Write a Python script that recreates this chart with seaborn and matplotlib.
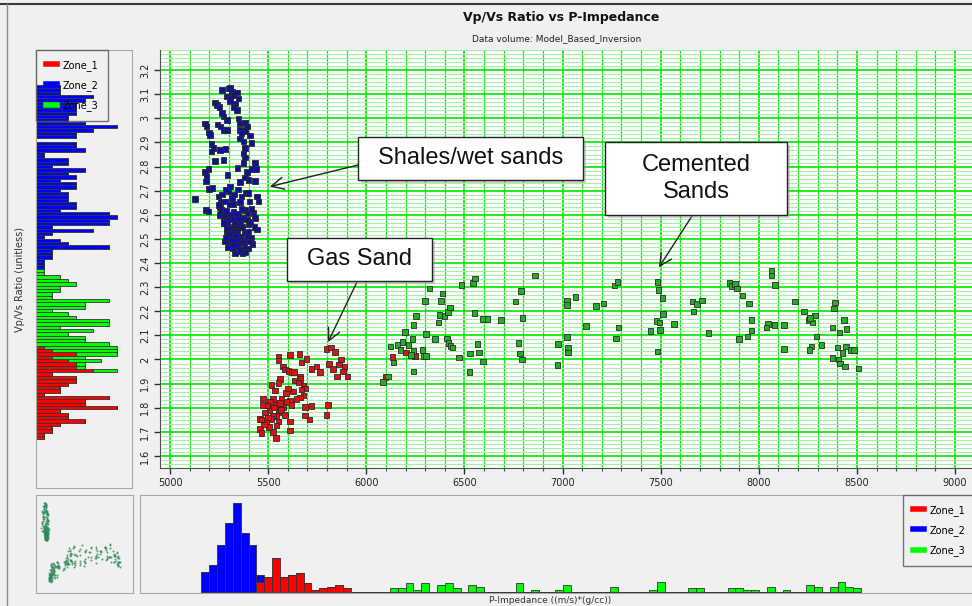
import numpy as np
import pandas as pd
import matplotlib
matplotlib.use("Agg")
import matplotlib.pyplot as plt
import seaborn as sns
from matplotlib.lines import Line2D
from matplotlib.patches import Rectangle

# ---------------- data ----------------
zones = ["Zone_1", "Zone_2", "Zone_3"]
zone_colors = {"Zone_1": "#ff0000", "Zone_2": "#0000ff", "Zone_3": "#00ff00"}
marker_colors = {"Zone_1": "#e01010", "Zone_2": "#10109a", "Zone_3": "#22b022"}

# Zone_2 : shales / wet sands  (P-Impedance, Vp/Vs)
zone2_points = [
    (5264, 3.117), (5298, 3.124), (5306, 3.127), (5315, 3.110), (5289, 3.090), (5306, 3.083),
    (5323, 3.096), (5340, 3.107), (5348, 3.083), (5331, 3.062), (5306, 3.069), (5229, 3.066),
    (5238, 3.055), (5252, 3.048), (5323, 3.048), (5340, 3.034), (5264, 3.021), (5272, 3.007),
    (5289, 2.993), (5348, 3.000), (5357, 2.979), (5382, 2.983), (5391, 2.966), (5178, 2.979),
    (5187, 2.966), (5241, 2.975), (5258, 2.966), (5272, 2.952), (5289, 2.952), (5357, 2.952),
    (5382, 2.948), (5407, 2.928), (5200, 2.942), (5204, 2.931), (5365, 2.938), (5357, 2.917),
    (5374, 2.904), (5416, 2.897), (5212, 2.893), (5221, 2.876), (5212, 2.862), (5255, 2.869),
    (5283, 2.873), (5382, 2.876), (5374, 2.855), (5382, 2.838), (5229, 2.824), (5272, 2.828),
    (5433, 2.814), (5374, 2.814), (5195, 2.791), (5178, 2.777), (5187, 2.759), (5183, 2.738),
    (5200, 2.708), (5217, 2.711), (5294, 2.766), (5343, 2.793), (5391, 2.777), (5416, 2.791),
    (5439, 2.791), (5382, 2.755), (5399, 2.745), (5433, 2.741), (5357, 2.736), (5306, 2.718),
    (5299, 2.697), (5315, 2.669), (5246, 2.676), (5258, 2.656), (5255, 2.631), (5280, 2.656),
    (5306, 2.642), (5323, 2.645), (5127, 2.665), (5183, 2.621), (5195, 2.614), (5442, 2.676),
    (5450, 2.656), (5387, 2.690), (5399, 2.690), (5357, 2.653), (5382, 2.621), (5425, 2.607),
    (5433, 2.587), (5255, 2.600), (5272, 2.587), (5289, 2.580), (5306, 2.600), (5323, 2.614),
    (5289, 2.559), (5306, 2.548), (5323, 2.552), (5340, 2.548), (5357, 2.566), (5374, 2.587),
    (5391, 2.580), (5399, 2.559), (5340, 2.532), (5289, 2.525), (5323, 2.511), (5357, 2.507),
    (5382, 2.525), (5442, 2.539), (5348, 2.490), (5374, 2.493), (5391, 2.497), (5300, 2.470),
    (5320, 2.460), (5340, 2.480), (5360, 2.450), (5380, 2.470), (5400, 2.460), (5330, 2.440),
    (5350, 2.470), (5420, 2.480), (5280, 2.490), (5370, 2.440), (5310, 2.480), (5260, 2.620),
    (5280, 2.600), (5300, 2.580), (5330, 2.570), (5350, 2.600), (5370, 2.550), (5400, 2.530),
    (5410, 2.570), (5430, 2.550), (5290, 2.540), (5250, 2.640), (5360, 2.510), (5320, 2.530),
    (5340, 2.500), (5300, 2.520), (5285, 2.505), (5315, 2.495), (5335, 2.515), (5365, 2.485),
    (5395, 2.515), (5415, 2.505), (5275, 2.565), (5345, 2.585), (5365, 2.625), (5395, 2.605),
    (5415, 2.625), (5285, 2.615), (5315, 2.585), (5335, 2.605), (5265, 2.685), (5285, 2.705),
    (5325, 2.685), (5345, 2.705), (5365, 2.675), (5405, 2.655), (5295, 2.465), (5355, 2.455),
    (5385, 2.445), (5325, 2.475), (5405, 2.490),
]

# Zone_1 : gas sand
zone1_points = [
    (5552, 2.013), (5552, 1.995), (5611, 2.018), (5659, 2.022), (5696, 2.002), (5670, 1.988),
    (5577, 1.971), (5586, 1.958), (5603, 1.953), (5620, 1.947), (5631, 1.949), (5662, 1.930),
    (5665, 1.919), (5637, 1.912), (5654, 1.905), (5560, 1.919), (5552, 1.902), (5518, 1.894),
    (5535, 1.871), (5679, 1.889), (5687, 1.880), (5628, 1.867), (5670, 1.875), (5679, 1.850),
    (5662, 1.843), (5645, 1.836), (5611, 1.830), (5594, 1.823), (5569, 1.836), (5526, 1.836),
    (5509, 1.823), (5475, 1.839), (5475, 1.812), (5496, 1.809), (5543, 1.812), (5557, 1.806),
    (5577, 1.802), (5620, 1.812), (5506, 1.788), (5552, 1.781), (5543, 1.765), (5526, 1.768),
    (5518, 1.754), (5552, 1.743), (5543, 1.726), (5458, 1.754), (5467, 1.751), (5492, 1.737),
    (5458, 1.712), (5467, 1.696), (5526, 1.699), (5540, 1.675), (5611, 1.743), (5611, 1.706),
    (5687, 1.802), (5687, 1.768), (5710, 1.751), (5721, 1.806), (5721, 1.960), (5747, 1.971),
    (5764, 1.949), (5798, 2.043), (5811, 1.981), (5798, 1.770), (5806, 1.812), (5820, 2.050),
    (5840, 2.030), (5860, 1.980), (5880, 1.950), (5850, 1.930), (5870, 2.000), (5890, 1.970),
    (5830, 1.960), (5905, 1.930), (6097, 1.927), (6134, 2.011), (6202, 2.029), (6248, 2.015),
    (5485, 1.780), (5500, 1.760), (5530, 1.800), (5565, 1.790), (5585, 1.770), (5505, 1.720),
    (5480, 1.730), (5560, 1.820), (5590, 1.860), (5600, 1.880),
]

# Zone_3 : cemented sands
zone3_points = [
    (6321, 2.294), (6389, 2.274), (6381, 2.243), (6299, 2.243), (6252, 2.181), (6240, 2.144),
    (6197, 2.115), (6185, 2.073), (6214, 2.060), (6235, 2.084), (6240, 2.036), (6228, 2.018),
    (6287, 2.039), (6291, 2.015), (6304, 2.015), (6138, 1.988), (6124, 2.053), (6240, 1.951),
    (6303, 2.105), (6350, 2.084), (6367, 2.153), (6372, 2.185), (6398, 2.181), (6415, 2.197),
    (6427, 2.215), (6410, 2.087), (6418, 2.068), (6430, 2.057), (6440, 2.050), (6472, 2.009),
    (6486, 2.309), (6545, 2.318), (6554, 2.335), (6551, 2.192), (6596, 2.167), (6618, 2.167),
    (6566, 2.064), (6574, 2.029), (6528, 2.025), (6525, 1.947), (6596, 1.992), (6686, 2.163),
    (6787, 2.284), (6761, 2.240), (6795, 2.171), (6775, 2.068), (6783, 2.025), (6792, 1.999),
    (6860, 2.349), (6978, 2.064), (6975, 1.978), (7024, 2.243), (7024, 2.225), (7067, 2.259),
    (7024, 2.094), (7029, 2.047), (7029, 2.029), (7118, 2.139), (7170, 2.222), (7208, 2.233),
    (7264, 2.307), (7279, 2.321), (7284, 2.133), (7272, 2.087), (7483, 2.321), (7488, 2.287),
    (7510, 2.256), (7513, 2.188), (7479, 2.160), (7493, 2.153), (7449, 2.119), (7496, 2.123),
    (7484, 2.033), (7568, 2.146), (7663, 2.240), (7686, 2.229), (7709, 2.245), (7666, 2.199),
    (7743, 2.109), (7850, 2.318), (7861, 2.305), (7878, 2.312), (7890, 2.294), (7916, 2.266),
    (7951, 2.233), (7963, 2.164), (7963, 2.121), (7943, 2.095), (7900, 2.084), (8065, 2.367),
    (8065, 2.349), (8082, 2.309), (8184, 2.240), (8230, 2.199), (8252, 2.163), (8274, 2.153),
    (8286, 2.183), (8260, 2.171), (8388, 2.236), (8383, 2.212), (8435, 2.164), (8447, 2.126),
    (8376, 2.132), (8410, 2.112), (8294, 2.095), (8269, 2.054), (8257, 2.039), (8320, 2.060),
    (8400, 2.050), (8427, 2.026), (8444, 2.054), (8468, 2.039), (8485, 2.039), (8376, 2.006),
    (8405, 1.999), (8413, 1.984), (8439, 1.971), (8507, 1.963), (8128, 2.043), (8079, 2.142),
    (8048, 2.146), (8040, 2.133), (8128, 2.144), (6085, 1.907), (6110, 1.930), (6160, 2.060),
    (6175, 2.040),
]

# Vp/Vs histogram (left panel), counts per bin from the lowest bin upward
vpvs_bin_start = 1.674
vpvs_bin_width = 0.01382
vpvs_n_bins = 106
zone1_vpvs_counts = [1, 1, 2, 2, 3, 6, 4, 4, 3, 10, 6, 6, 9, 1, 3, 3, 4, 5, 5, 2,
                     7, 5, 5, 4, 2, 5, 2, 1]                       # bins 0..27
zone3_vpvs_first_bin = 20
zone3_vpvs_counts = [3, 1, 1, 4, 4, 5, 8, 9, 9, 6, 6, 4, 7, 3, 9, 9, 5, 4, 2, 6,
                     6, 9, 2, 2, 3, 3, 5, 4, 3, 1, 1]              # bins 20..50
zone2_vpvs_first_bin = 51
zone2_vpvs_counts = [1, 1, 1, 2, 2, 2, 9, 4, 3, 1, 2, 7, 2, 9, 9, 10, 9, 3, 5, 5,
                     4, 4, 4, 3, 5, 5, 3, 5, 4, 6, 2, 4, 4, 1, 1, 6, 5, 5, 0, 5,
                     5, 7, 10, 6, 4, 4, 5, 5, 5, 5, 6, 7, 3, 3, 3]  # bins 51..105

# P-Impedance histogram (bottom panel)
imp_bin_start = 5160
imp_bin_width = 40
imp_n_bins = 84
zone2_imp_counts = [12, 16, 28, 41, 53, 35, 28, 4]                  # bins 0..7
zone1_imp_first_bin = 7
zone1_imp_counts = [6, 9, 20, 9, 10, 11, 5, 1, 2, 3, 4, 2, 0, 0, 0, 0, 0]  # bins 7..23
zone3_imp_first_bin = 24
zone3_imp_counts = [2, 2, 5, 1, 5, 0, 4, 5, 2, 0, 4, 3, 0, 0, 0, 0, 5, 0, 1, 0,
                    0, 1, 4, 0, 0, 0, 0, 0, 3, 0, 0, 0, 0, 1, 6, 0, 0, 0, 2, 2,
                    0, 0, 0, 2, 2, 1, 1, 0, 3, 0, 1, 0, 0, 4, 3, 0, 3, 6, 3, 2]  # bins 24..83

x_ticks = [5000, 5500, 6000, 6500, 7000, 7500, 8000, 8500, 9000]
y_ticks = [1.6, 1.7, 1.8, 1.9, 2.0, 2.1, 2.2, 2.3, 2.4, 2.5, 2.6, 2.7, 2.8, 2.9, 3.0, 3.1, 3.2]

# ---------------- tables ----------------
rows = []
for z, pts in (("Zone_2", zone2_points), ("Zone_1", zone1_points), ("Zone_3", zone3_points)):
    for imp, vv in pts:
        rows.append({"imp": imp, "vpvs": vv, "zone": z})
df = pd.DataFrame(rows)

left_rows = []
for z, first, counts in (("Zone_1", 0, zone1_vpvs_counts),
                         ("Zone_3", zone3_vpvs_first_bin, zone3_vpvs_counts),
                         ("Zone_2", zone2_vpvs_first_bin, zone2_vpvs_counts)):
    for i, c in enumerate(counts):
        b = first + i
        left_rows.append({"vpvs": vpvs_bin_start + (b + 0.5) * vpvs_bin_width, "n": float(c), "zone": z})
df_left = pd.DataFrame(left_rows)

bot_rows = []
for z, first, counts in (("Zone_2", 0, zone2_imp_counts),
                         ("Zone_1", zone1_imp_first_bin, zone1_imp_counts),
                         ("Zone_3", zone3_imp_first_bin, zone3_imp_counts)):
    for i, c in enumerate(counts):
        b = first + i
        bot_rows.append({"imp": imp_bin_start + (b + 0.5) * imp_bin_width, "n": float(c), "zone": z})
df_bot = pd.DataFrame(bot_rows)

# ---------------- figure ----------------
W, H = 972, 606
BG = "#f0f0f0"
FRAME = "#a8a8a8"


def rect(x0, y0, x1, y1):
    return [x0 / W, 1 - y1 / H, (x1 - x0) / W, (y1 - y0) / H]


plt.rcParams["font.family"] = ["DejaVu Sans"]
fig = plt.figure(figsize=(W / 100, H / 100), dpi=100, facecolor=BG)

# outer frame lines
fig.add_artist(Line2D([0, 1], [1 - 4 / H, 1 - 4 / H], transform=fig.transFigure, color="#3a3a3a", lw=1.5))
fig.add_artist(Line2D([7 / W, 7 / W], [0, 1 - 4 / H], transform=fig.transFigure, color="#8a8a8a", lw=1.0))

fig.text(561 / W, 1 - 17 / H, "Vp/Vs Ratio vs P-Impedance", ha="center", va="center",
         fontsize=9, fontweight="bold", color="#111111")
fig.text(557 / W, 1 - 39 / H, "Data volume: Model_Based_Inversion", ha="center", va="center",
         fontsize=6.5, color="#222222")
fig.text(20 / W, 1 - 280 / H, "Vp/Vs Ratio (unitless)", rotation=90, ha="center", va="center",
         fontsize=7, color="#333333")
fig.text(550 / W, 1 / H, "P-Impedance ((m/s)*(g/cc))", ha="center", va="bottom",
         fontsize=6.5, color="#333333")

# ---- main scatter ----
ax = fig.add_axes(rect(160, 50, 972, 468))
ax.set_facecolor("white")
xmin, xmax = 4949, 9086
ymin, ymax = 1.555, 3.283
ax.set_xlim(xmin, xmax)
ax.set_ylim(ymin, ymax)
ax.set_xticks(x_ticks)
ax.set_xticklabels([str(t) for t in x_ticks])
ax.set_xticks(np.arange(5000, 9100, 100), minor=True)
ax.set_yticks(y_ticks)
ax.set_yticklabels(["%g" % t for t in y_ticks], rotation=90, va="center")
ax.set_yticks(np.arange(1.55, 3.29, 0.1 / 6), minor=True)
ax.grid(which="minor", axis="y", color="#a6f0a6", lw=0.8)
ax.grid(which="major", axis="y", color="#00e600", lw=1.2)
ax.grid(which="minor", axis="x", color="#22e022", lw=0.9)
ax.grid(which="major", axis="x", color="#00e600", lw=1.2)
ax.set_axisbelow(True)
for s in ("top", "right"):
    ax.spines[s].set_visible(False)
for s in ("left", "bottom"):
    ax.spines[s].set_color("#505050")
ax.tick_params(which="major", length=4, width=1, color="#303030", labelsize=7, labelcolor="#222222", pad=3)
ax.tick_params(which="minor", length=2, width=0.8, color="#505050")
ax.tick_params(axis="y", which="minor", length=0)

sns.scatterplot(data=df, x="imp", y="vpvs", hue="zone", palette=marker_colors, marker="s",
                s=16, edgecolor="#2a2a2a", linewidth=0.6, legend=False, ax=ax, zorder=3)
ax.set_xlabel("")
ax.set_ylabel("")

# annotation boxes
boxes = [
    ((358, 137, 583, 180), ["Shales/wet sands"], (358, 165), (5509, 2.717)),
    ((287, 238, 432, 281), ["Gas Sand"], (357, 282), (5805, 2.072)),
    ((605, 142, 787, 215), ["Cemented", "Sands"], (692, 216), (7491, 2.382)),
]
for (x0, y0, x1, y1), lines, tail, tip in boxes:
    fig.add_artist(Rectangle((x0 / W + 3 / W, 1 - y1 / H - 3 / H), (x1 - x0) / W, (y1 - y0) / H,
                             transform=fig.transFigure, facecolor="#9a9a9a", edgecolor="none",
                             alpha=0.45, zorder=4))
    fig.add_artist(Rectangle((x0 / W, 1 - y1 / H), (x1 - x0) / W, (y1 - y0) / H,
                             transform=fig.transFigure, facecolor="white", edgecolor="#222222",
                             lw=1.0, zorder=5))
    fig.text((x0 + x1) / 2 / W, 1 - (y0 + y1) / 2 / H, "\n".join(lines), ha="center", va="center",
             fontsize=17, family="Liberation Sans", color="#111111", linespacing=1.25, zorder=6)
    ax.annotate("", xy=tip, xycoords="data", xytext=(tail[0], H - tail[1]), textcoords="figure pixels",
                arrowprops=dict(arrowstyle="->", color="#222222", lw=1.0, mutation_scale=22,
                                shrinkA=0, shrinkB=0), zorder=6, annotation_clip=False)

# ---- left histogram ----
axl = fig.add_axes(rect(36, 50, 132, 488))
axl.set_facecolor(BG)
sns.histplot(data=df_left, y="vpvs", weights="n", hue="zone", hue_order=["Zone_3", "Zone_2", "Zone_1"],
             multiple="stack", binwidth=vpvs_bin_width,
             binrange=(vpvs_bin_start, vpvs_bin_start + vpvs_n_bins * vpvs_bin_width),
             palette=zone_colors, edgecolor="#333333", linewidth=0.6, alpha=1, legend=False, ax=axl)
axl.set_ylim(1.473, 3.283)
axl.set_xlim(0, 11 * 96 / 89)
axl.set_xticks([])
axl.set_yticks([])
axl.set_xlabel("")
axl.set_ylabel("")
for s in axl.spines.values():
    s.set_color(FRAME)
handles = [Line2D([0], [0], color=zone_colors[z], lw=4) for z in zones]
leg = axl.legend(handles, zones, loc="upper left", bbox_to_anchor=(0, 1), fontsize=7,
                 frameon=True, handlelength=1.2, labelspacing=0.95, borderpad=1.0,
                 handletextpad=0.5, borderaxespad=0, fancybox=False)
leg.get_frame().set_facecolor("none")
leg.get_frame().set_edgecolor("#555555")

# ---- bottom-left overview ----
axt = fig.add_axes(rect(36, 495, 133, 593))
axt.set_facecolor(BG)
sns.scatterplot(data=df, x="imp", y="vpvs", color="#2e8b57", s=2, linewidth=0, alpha=0.8,
                legend=False, ax=axt)
axt.set_xlim(4915, 9060)
axt.set_ylim(1.48, 3.27)
axt.set_xticks([])
axt.set_yticks([])
axt.set_xlabel("")
axt.set_ylabel("")
for s in axt.spines.values():
    s.set_color(FRAME)

# ---- bottom histogram ----
axb = fig.add_axes(rect(140, 495, 975, 593))
axb.set_facecolor(BG)
sns.histplot(data=df_bot, x="imp", weights="n", hue="zone", hue_order=["Zone_3", "Zone_2", "Zone_1"],
             multiple="stack", binwidth=imp_bin_width,
             binrange=(imp_bin_start, imp_bin_start + imp_n_bins * imp_bin_width),
             palette=zone_colors, edgecolor="#333333", linewidth=0.6, alpha=1, legend=False, ax=axb)
axb.set_xlim(4847, 9100)
axb.set_ylim(-0.8, 57.9)
axb.set_xticks([])
axb.set_yticks([])
axb.set_xlabel("")
axb.set_ylabel("")
for s in axb.spines.values():
    s.set_color(FRAME)
leg2 = axb.legend(handles, zones, loc="upper left", bbox_to_anchor=(903 / W, 1 - 495 / H),
                  bbox_transform=fig.transFigure, fontsize=7, frameon=True, handlelength=1.2,
                  labelspacing=0.95, borderpad=1.0, handletextpad=0.5, borderaxespad=0,
                  fancybox=False)
leg2.get_frame().set_facecolor(BG)
leg2.get_frame().set_edgecolor("#555555")

fig.savefig("out.png", dpi=100, facecolor=BG)
